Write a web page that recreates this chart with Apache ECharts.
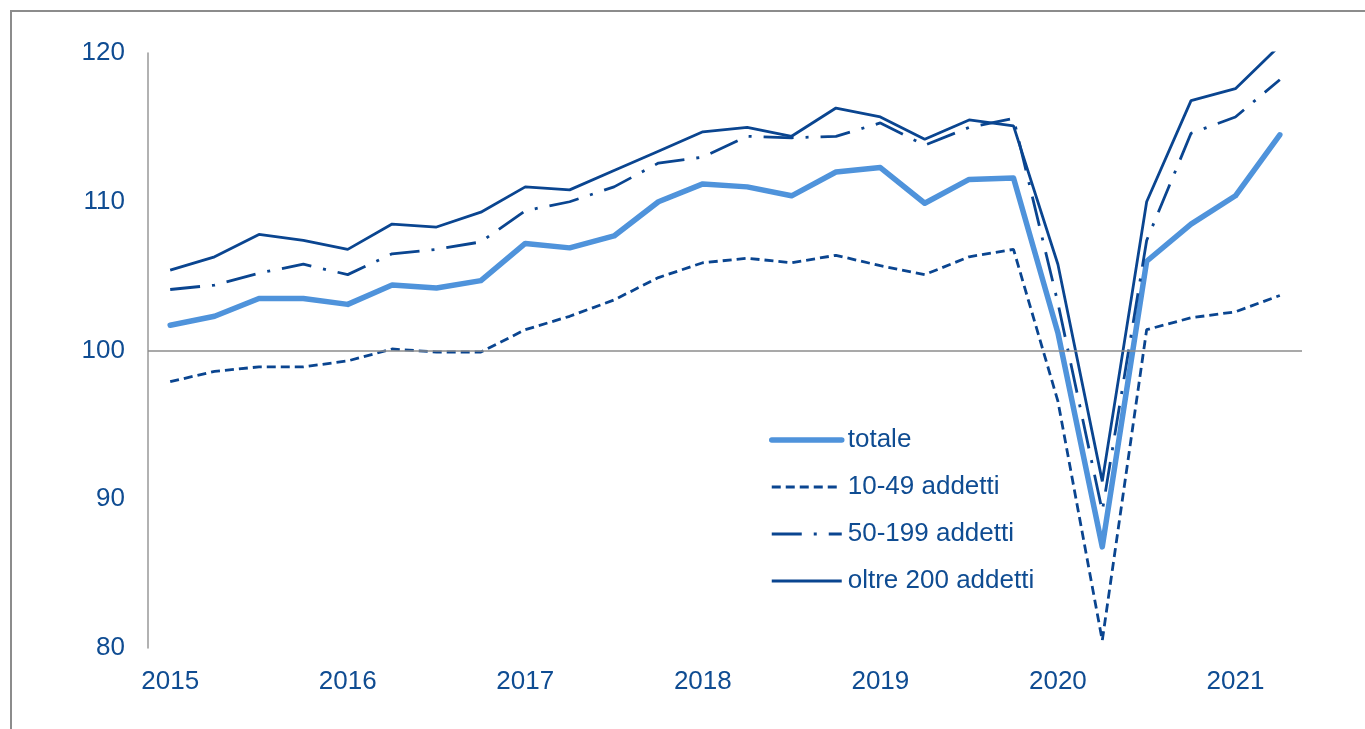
<!DOCTYPE html>
<html>
<head>
<meta charset="utf-8">
<script src="https://cdn.jsdelivr.net/npm/echarts@6/dist/echarts.min.js"></script>
<style>
  html, body { margin: 0; padding: 0; background: #fff; }
  #chart { width: 1365px; height: 729px; }
</style>
</head>
<body>
<div id="chart"></div>
<script>
var quarters = ['2015 T1','2015 T2','2015 T3','2015 T4',
                '2016 T1','2016 T2','2016 T3','2016 T4',
                '2017 T1','2017 T2','2017 T3','2017 T4',
                '2018 T1','2018 T2','2018 T3','2018 T4',
                '2019 T1','2019 T2','2019 T3','2019 T4',
                '2020 T1','2020 T2','2020 T3','2020 T4',
                '2021 T1','2021 T2'];

var totale = [101.7, 102.3, 103.5, 103.5, 103.1, 104.4, 104.2, 104.7, 107.2, 106.9, 107.7, 110.0, 111.2,
              111.0, 110.4, 112.0, 112.3, 109.9, 111.5, 111.6, 101.2, 86.8, 106.0, 108.5, 110.4, 114.5];
var addetti10_49 = [97.9, 98.6, 98.9, 98.9, 99.3, 100.1, 99.9, 99.9, 101.4, 102.3, 103.4, 104.9, 105.9,
                    106.2, 105.9, 106.4, 105.7, 105.1, 106.3, 106.8, 96.6, 80.5, 101.4, 102.2, 102.6, 103.7];
var addetti50_199 = [104.1, 104.4, 105.2, 105.8, 105.1, 106.5, 106.8, 107.3, 109.4, 110.0, 111.0, 112.6, 113.0,
                     114.4, 114.3, 114.4, 115.3, 113.8, 115.0, 115.6, 103.2, 89.2, 107.4, 114.6, 115.7, 118.2];
var oltre200 = [105.4, 106.3, 107.8, 107.4, 106.8, 108.5, 108.3, 109.3, 111.0, 110.8, 112.1, 113.4, 114.7,
                115.0, 114.4, 116.3, 115.7, 114.2, 115.5, 115.1, 105.8, 91.2, 110.0, 116.8, 117.6, 120.5];

var seriesNames = ['totale', '10-49 addetti', '50-199 addetti', 'oltre 200 addetti'];

var textColor = '#0f4c92';
var darkBlue = '#0a4590';
var lightBlue = '#4f93db';
var thin = 2.8;
var thick = 5.5;

var dom = document.getElementById('chart');
var myChart = echarts.init(dom, null, { renderer: 'canvas' });
var option = {
    animation: false,
    textStyle: { fontFamily: 'Liberation Sans, Arial, sans-serif' },
    graphic: [{
        type: 'rect',
        silent: true,
        shape: { x: 11, y: 11, width: 1400, height: 800 },
        style: { fill: 'none', stroke: '#8c8c8c', lineWidth: 2 }
    }],
    grid: { left: 148, right: 63, top: 53, bottom: 81 },
    legend: {
        orient: 'vertical',
        left: 764,
        top: 422,
        itemWidth: 70,
        itemHeight: 14,
        itemGap: 21,
        itemStyle: { color: 'rgba(0,0,0,0)', borderWidth: 0 },
        data: [
            { name: seriesNames[0], lineStyle: { width: thick, cap: 'round' } },
            { name: seriesNames[1], lineStyle: { width: thin } },
            { name: seriesNames[2], lineStyle: { width: thin } },
            { name: seriesNames[3], lineStyle: { width: thin } }
        ],
        textStyle: { color: textColor, fontSize: 26, lineHeight: 26, padding: [0, 0, 0, 1] }
    },
    xAxis: {
        type: 'category',
        data: quarters,
        boundaryGap: true,
        axisLine: { show: false },
        axisTick: { show: false },
        axisLabel: {
            interval: 3,
            margin: 21,
            color: textColor,
            fontSize: 26,
            formatter: function (v) { return v.slice(0, 4); }
        }
    },
    yAxis: {
        type: 'value',
        min: 80,
        max: 120,
        interval: 10,
        axisLine: { show: true, lineStyle: { color: '#999999', width: 1.5 } },
        axisTick: { show: false },
        splitLine: { show: false },
        axisLabel: { margin: 23, color: textColor, fontSize: 26, padding: [3, 0, 0, 0] }
    },
    series: [
        {
            name: seriesNames[0],
            type: 'line',
            data: totale,
            symbol: 'none',
            lineStyle: { color: lightBlue, width: thick, cap: 'round', join: 'round' },
            itemStyle: { color: lightBlue },
            markLine: {
                silent: true,
                symbol: 'none',
                label: { show: false },
                lineStyle: { color: '#8c8c8c', width: 1.5, type: 'solid' },
                data: [{ yAxis: 100 }]
            }
        },
        {
            name: seriesNames[1],
            type: 'line',
            data: addetti10_49,
            symbol: 'none',
            lineStyle: { color: darkBlue, width: thin, type: [9, 5] },
            itemStyle: { color: darkBlue }
        },
        {
            name: seriesNames[2],
            type: 'line',
            data: addetti50_199,
            symbol: 'none',
            lineStyle: { color: darkBlue, width: thin, type: [30, 12, 3, 12] },
            itemStyle: { color: darkBlue }
        },
        {
            name: seriesNames[3],
            type: 'line',
            data: oltre200,
            symbol: 'none',
            lineStyle: { color: darkBlue, width: thin },
            itemStyle: { color: darkBlue }
        }
    ]
};
if (option && typeof option === 'object') {
    myChart.setOption(option, true);
}
</script>
</body>
</html>
